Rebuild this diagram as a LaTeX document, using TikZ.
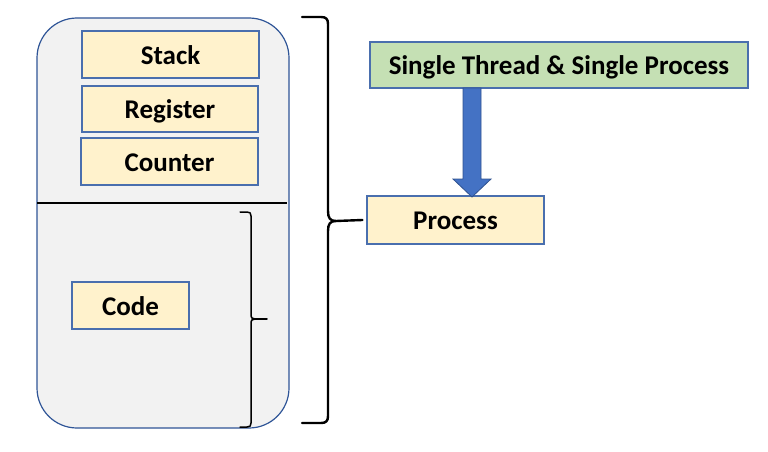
\documentclass[tikz,border=0pt]{standalone}
\usepackage{fontspec}
\setmainfont{Carlito}
\begin{document}
\begin{tikzpicture}[x=1pt,y=-1pt,
  panel/.style={draw=panelblue,line width=1.2pt,fill=panelgray,rounded corners=40pt},
  item/.style={draw=boxblue,line width=1.2pt,fill=boxbeige,font=\fontsize{27}{32}\selectfont\bfseries,
    inner sep=0pt,text height=19.5pt,text depth=0pt},
  titlebox/.style={item,fill=boxgreen},
  bracepath/.style={draw=black,line width=2.4pt,line cap=round,line join=round},
  smallbrace/.style={draw=black,line width=1.5pt,line cap=round,line join=round},
  fatarrow/.style={draw=arrowedge,line width=0.8pt,fill=arrowblue}]
\definecolor{panelblue}{HTML}{2F5597}
\definecolor{panelgray}{HTML}{F2F2F2}
\definecolor{boxblue}{HTML}{4A6FAE}
\definecolor{boxbeige}{HTML}{FFF2CC}
\definecolor{boxgreen}{HTML}{C5E0B4}
\definecolor{arrowblue}{HTML}{4472C4}
\definecolor{arrowedge}{HTML}{2F528F}
\useasboundingbox (0,0) rectangle (768,452);

% process memory panel
\path[panel] (37,18) rectangle (289,428);
\draw[black,line width=1.1pt] (37,203) -- (287,203);

% thread-specific parts and code
\node[item,minimum width=177pt,minimum height=47pt] (stack) at (170.5,54.5) {Stack};
\node[item,minimum width=176pt,minimum height=46pt] (register) at (170,109) {Register};
\node[item,minimum width=177pt,minimum height=47pt] (counter) at (169.5,161.5) {Counter};
\node[item,minimum width=117pt,minimum height=47pt] (code) at (130.5,305.5) {Code};

% right-hand side
\node[titlebox,minimum width=378pt,minimum height=46pt] (title) at (559,65) {Single Thread \& Single Process};
\node[item,minimum width=177pt,minimum height=48pt] (process) at (455.5,220) {Process};

% block arrow from title to process
\path[fatarrow] (463,88) -- (481,88) -- (481,179) -- (491,179) -- (472,197)
  -- (453,179) -- (463,179) -- cycle;

% large brace spanning the panel
\coordinate (tip) at (336,221);
\path[bracepath] (302,17) -- (321,17) .. controls (326,17) and (328,19) .. (328,24)
  -- (328,211) .. controls (328,218) and (330,221) .. (tip)
  .. controls (330,221) and (328,224) .. (328,231)
  -- (328,416) .. controls (328,421) and (326,423) .. (321,423) -- (302,423);
\draw[bracepath] (tip) -- ([xshift=-4pt]process.west);

% small brace beside the code section
\path[smallbrace] (240,212) -- (247,212) .. controls (250,212) and (251,213) .. (251,216)
  -- (251,314) .. controls (251,318) and (252,319) .. (255,319)
  .. controls (252,319) and (251,320) .. (251,324)
  -- (251,423) .. controls (251,426) and (250,427) .. (247,427) -- (240,427);
\draw[smallbrace] (255,319) -- (267,319);
\end{tikzpicture}
\end{document}
